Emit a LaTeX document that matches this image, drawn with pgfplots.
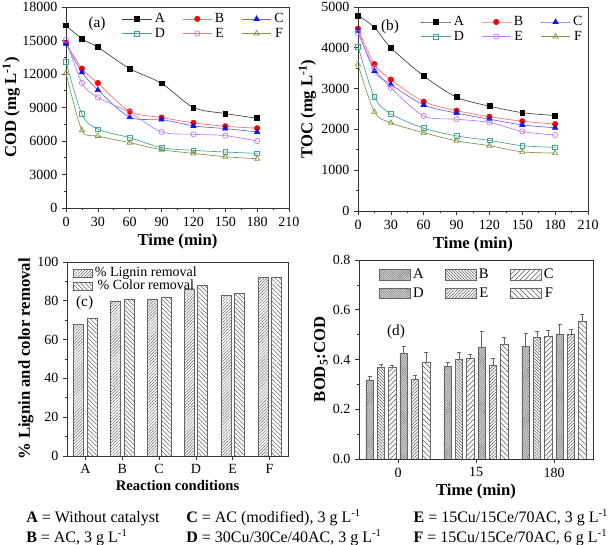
\documentclass[border=0pt]{standalone}
\usepackage{fontspec}
\setmainfont{Liberation Serif}
\usepackage{pgfplots}
\pgfplotsset{compat=1.18}
\usetikzlibrary{patterns,patterns.meta}
\definecolor{colB}{RGB}{255,0,0}
\definecolor{colBl}{RGB}{255,110,110}
\definecolor{colC}{RGB}{20,20,240}
\definecolor{colCl}{RGB}{100,100,255}
\definecolor{colD}{RGB}{70,165,145}
\definecolor{colE}{RGB}{190,120,245}
\definecolor{colF}{RGB}{125,150,70}
\pgfplotsset{
  base/.style={scale only axis, anchor=south west,
    font=\fontsize{10.5}{12}\selectfont,
    tick label style={font=\fontsize{10.5}{12}\selectfont},
    label style={font=\bfseries\fontsize{12.5}{14}\selectfont},
    /pgf/number format/assume math mode=true,
    /pgf/number format/1000 sep={},
    tick align=outside, xtick pos=bottom, ytick pos=left,
    major tick length=3pt, minor tick length=1.8pt,
    axis line style={line width=0.6pt, black!80},
    every tick/.style={black!80, line width=0.5pt},
  },
  linelegend/.style={legend image code/.code={\draw[mark repeat=2, mark phase=2, ##1] plot coordinates {(0pt,0pt) (11pt,0pt) (22pt,0pt)};}},
}
\begin{document}
\begin{tikzpicture}
\useasboundingbox (0,0) rectangle (460.5pt,408.75pt);
% ---------------- (a) ----------------
\begin{axis}[base, at={(49.5pt,252.75pt)}, width=167.25pt, height=150.75pt,
  xmin=0, xmax=210, ymin=0, ymax=18000,
  xtick={0,30,...,210}, ytick={0,3000,...,18000}, minor x tick num=1, minor y tick num=1,
  scaled y ticks=false,
  xlabel={Time (min)}, ylabel={COD (mg L\textsuperscript{-1})},
  xlabel style={yshift=1pt}, ylabel style={yshift=-5pt},
  legend style={at={(0.995,0.99)}, anchor=north east, draw=none, fill=none,
    font=\fontsize{10.5}{12}\selectfont, inner sep=1pt,
    /tikz/every even column/.append style={column sep=11pt}, row sep=-1.5pt},
  legend columns=3, linelegend,
  every axis plot/.append style={smooth, tension=0.5, line width=0.5pt, mark size=2pt},
]
\addplot[black!75, mark=square*, mark options={black, mark size=1.8pt}] coordinates {(0,16350) (15,15150) (30,14400) (60,12480) (90,11160) (120,9000) (150,8460) (180,8040)};
\addplot[colBl, mark=*, mark options={colB, fill=colB}] coordinates {(0,14800) (15,12480) (30,11190) (60,8650) (90,8100) (120,7620) (150,7320) (180,7140)};
\addplot[colCl, mark=triangle*, mark options={colC, fill=colC, mark size=2.3pt}] coordinates {(0,14700) (15,12150) (30,10560) (60,8130) (90,7920) (120,7350) (150,7110) (180,6810)};
\addplot[colD, mark=square, mark options={colD, fill=white, mark size=1.8pt}] coordinates {(0,13100) (15,8400) (30,7050) (60,6300) (90,5400) (120,5160) (150,5010) (180,4890)};
\addplot[colE, mark=o, mark options={colE, fill=white}] coordinates {(0,15060) (15,11200) (30,9900) (60,8550) (90,6810) (120,6600) (150,6480) (180,6000)};
\addplot[colF, mark=triangle, mark options={colF, fill=white, mark size=2.3pt}] coordinates {(0,12100) (15,6960) (30,6450) (60,5850) (90,5220) (120,4890) (150,4590) (180,4410)};
\legend{A,B,C,D,E,F}
\node[anchor=west, font=\fontsize{11.5}{12}\selectfont] at (rel axis cs:0.08,0.915) {(a)};
\end{axis}
% ---------------- (b) ----------------
\begin{axis}[base, at={(268.5pt,250.5pt)}, width=172.5pt, height=153pt,
  xmin=0, xmax=210, ymin=0, ymax=5000,
  xtick={0,30,...,210}, ytick={0,1000,...,5000}, minor x tick num=1, minor y tick num=1,
  scaled y ticks=false,
  xlabel={Time (min)}, ylabel={TOC (mg L\textsuperscript{-1})},
  xlabel style={yshift=1pt}, ylabel style={yshift=-3pt},
  legend style={at={(0.995,0.975)}, anchor=north east, draw=none, fill=none,
    font=\fontsize{10.5}{12}\selectfont, inner sep=1pt,
    /tikz/every even column/.append style={column sep=11pt}, row sep=-1.5pt},
  legend columns=3, linelegend,
  every axis plot/.append style={smooth, tension=0.5, line width=0.5pt, mark size=2pt},
]
\addplot[black!75, mark=square*, mark options={black, mark size=1.8pt}] coordinates {(0,4790) (15,4500) (30,4000) (60,3310) (90,2790) (120,2570) (150,2410) (180,2340)};
\addplot[colBl, mark=*, mark options={colB, fill=colB}] coordinates {(0,4470) (15,3600) (30,3220) (60,2680) (90,2460) (120,2310) (150,2200) (180,2130)};
\addplot[colCl, mark=triangle*, mark options={colC, fill=colC, mark size=2.3pt}] coordinates {(0,4420) (15,3430) (30,3100) (60,2600) (90,2400) (120,2250) (150,2110) (180,2040)};
\addplot[colD, mark=square, mark options={colD, fill=white, mark size=1.8pt}] coordinates {(0,4030) (15,2790) (30,2380) (60,2030) (90,1840) (120,1730) (150,1600) (180,1560)};
\addplot[colE, mark=o, mark options={colE, fill=white}] coordinates {(0,4360) (15,3510) (30,3020) (60,2330) (90,2250) (120,2170) (150,1950) (180,1860)};
\addplot[colF, mark=triangle, mark options={colF, fill=white, mark size=2.3pt}] coordinates {(0,3590) (15,2430) (30,2160) (60,1920) (90,1720) (120,1600) (150,1450) (180,1420)};
\legend{A,B,C,D,E,F}
\node[anchor=west, font=\fontsize{11.5}{12}\selectfont] at (rel axis cs:0.08,0.905) {(b)};
\end{axis}
% ---------------- (c) ----------------
\begin{axis}[base, at={(50.25pt,66.75pt)}, width=165.75pt, height=145.5pt,
  ybar=2.6pt, bar width=7.5pt,
  xmin=0.5, xmax=6.5, ymin=0, ymax=100,
  xtick={1,...,6}, xticklabels={A,B,C,D,E,F},
  ytick={0,20,...,100}, minor y tick num=1,
  xlabel={Reaction conditions}, ylabel={\% Lignin and color removal},
  xlabel style={yshift=2pt, font=\bfseries\fontsize{11}{12}\selectfont},
  ylabel style={yshift=-4pt},
  legend style={at={(0.02,0.995)}, anchor=north west, draw=none, fill=none,
    font=\fontsize{10.5}{12}\selectfont, inner sep=1pt, row sep=-3pt},
  legend image code/.code={\draw[#1] (0pt,-3pt) rectangle (14pt,3pt);},
]
\addplot[draw=black!60, line width=0.4pt, pattern={Lines[angle=45,distance=1.6pt,line width=0.35pt]}, pattern color=black!60] coordinates {(1,68) (2,80) (3,81) (4,86) (5,83) (6,92)};
\addplot[draw=black!60, line width=0.4pt, pattern={Lines[angle=-45,distance=2.3pt,line width=0.4pt]}, pattern color=black!60] coordinates {(1,71) (2,81) (3,82) (4,88) (5,84) (6,92)};
\legend{\% Lignin removal, \% Color removal}
\node[anchor=west, font=\fontsize{11.5}{12}\selectfont] at (rel axis cs:0.02,0.79) {(c)};
\end{axis}
% ---------------- (d) ----------------
\begin{axis}[base, at={(269.25pt,64.5pt)}, width=175.5pt, height=149.25pt,
  ybar=2.9pt, bar width=5.6pt,
  xmin=-0.5, xmax=2.5, ymin=0, ymax=0.8,
  xtick={0,1,2}, xticklabels={0,15,180},
  ytick={0,0.2,...,0.8}, minor y tick num=1,
  yticklabel style={/pgf/number format/.cd, fixed, fixed zerofill, precision=1},
  xlabel={Time (min)}, ylabel={BOD\textsubscript{5}:COD},
  xlabel style={yshift=2pt}, ylabel style={yshift=-3pt},
  legend style={at={(0.08,0.975)}, anchor=north west, draw=none, fill=none,
    font=\fontsize{11}{12}\selectfont, inner sep=1pt,
    /tikz/every even column/.append style={column sep=14pt}, row sep=1pt},
  legend columns=3,
  legend image code/.code={\draw[#1] (0pt,-4pt) rectangle (23pt,4pt);},
  error bars/y dir=plus, error bars/y explicit,
  error bars/error bar style={black!60, line width=0.4pt},
  error bars/error mark options={rotate=90, black!60, mark size=1.5pt},
]
\addplot[draw=black!60, line width=0.4pt, fill=black!18, postaction={pattern={Lines[angle=45,distance=1.2pt,line width=0.3pt]}, pattern color=black!55}] coordinates {(0,0.318) +- (0,0.015) (1,0.372) +- (0,0.016) (2,0.453) +- (0,0.053)};
\addplot[draw=black!60, line width=0.4pt, pattern={Lines[angle=-45,distance=1.6pt,line width=0.4pt]}, pattern color=black!65] coordinates {(0,0.368) +- (0,0.012) (1,0.401) +- (0,0.027) (2,0.489) +- (0,0.025)};
\addplot[draw=black!60, line width=0.4pt, pattern={Lines[angle=45,distance=2.6pt,line width=0.4pt]}, pattern color=black!65] coordinates {(0,0.368) +- (0,0.010) (1,0.405) +- (0,0.015) (2,0.492) +- (0,0.024)};
\addplot[draw=black!60, line width=0.4pt, fill=black!18, postaction={pattern={Lines[angle=-45,distance=1.2pt,line width=0.3pt]}, pattern color=black!55}] coordinates {(0,0.424) +- (0,0.030) (1,0.449) +- (0,0.063) (2,0.501) +- (0,0.039)};
\addplot[draw=black!60, line width=0.4pt, pattern={Lines[angle=45,distance=1.7pt,line width=0.4pt]}, pattern color=black!65] coordinates {(0,0.322) +- (0,0.016) (1,0.377) +- (0,0.027) (2,0.503) +- (0,0.018)};
\addplot[draw=black!60, line width=0.4pt, pattern={Lines[angle=-45,distance=2.8pt,line width=0.4pt]}, pattern color=black!65] coordinates {(0,0.388) +- (0,0.040) (1,0.462) +- (0,0.028) (2,0.553) +- (0,0.027)};
\legend{A,B,C,D,E,F}
\node[anchor=west, font=\fontsize{11.5}{12}\selectfont] at (rel axis cs:0.1,0.64) {(d)};
\end{axis}
% ---------------- caption ----------------
\begin{scope}[every node/.style={anchor=base west, inner sep=0pt, font=\fontsize{12}{14}\selectfont}]
\node at (19.5pt,17pt) {\textbf{A} = Without catalyst};
\node at (19.5pt,2pt) {\textbf{B} = AC, 3 g L\textsuperscript{-1}};
\node at (139.5pt,17pt) {\textbf{C} = AC (modified), 3 g L\textsuperscript{-1}};
\node at (139.5pt,2pt) {\textbf{D} = 30Cu/30Ce/40AC, 3 g L\textsuperscript{-1}};
\node at (310pt,17pt) {\textbf{E} = 15Cu/15Ce/70AC, 3 g L\textsuperscript{-1}};
\node at (310pt,2pt) {\textbf{F} = 15Cu/15Ce/70AC, 6 g L\textsuperscript{-1}};
\end{scope}
\end{tikzpicture}
\end{document}
